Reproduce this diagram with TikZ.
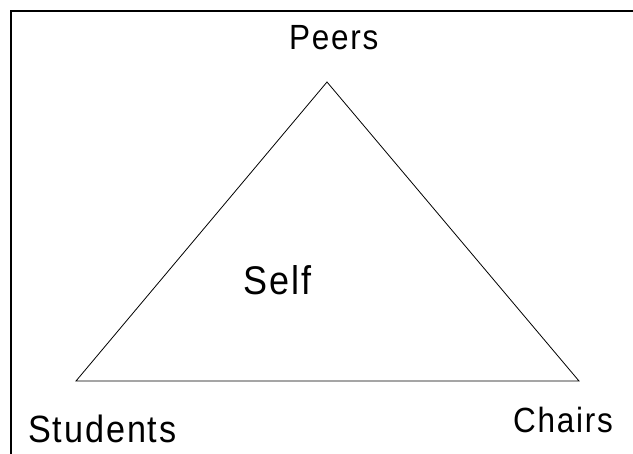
\documentclass[tikz,border=0pt]{standalone}
\usepackage{fontspec}
\setmainfont{Liberation Sans}
\newfontfamily\rolefont[FakeStretch=0.9, LetterSpace=5]{Liberation Sans}
\usetikzlibrary{positioning}

\begin{document}
\begin{tikzpicture}[x=1pt, y=-1pt,
  role/.style={inner sep=0pt, anchor=base west},
  frame/.style={line width=2pt},
  side/.style={line width=0.8pt}]
  \useasboundingbox (0,0) rectangle (633,454);
  \draw[frame] (11,454) -- (11,11) -- (633,11);
  \coordinate (top) at (327,82);
  \coordinate (left) at (76,381);
  \coordinate (right) at (579,381);
  \draw[side] (top) -- (left) -- (right) -- cycle;
  \node[role, font=\rolefont\fontsize{35}{38}\selectfont] (peers) at (289,50) {Peers};
  \node[role, font=\rolefont\fontsize{40}{44}\selectfont] (self) at (243,295) {Self};
  \node[role, font=\rolefont\fontsize{38}{42}\selectfont] (students) at (28,443) {Students};
  \node[role, font=\rolefont\fontsize{35}{38}\selectfont] (chairs) at (513,433) {Chairs};
\end{tikzpicture}
\end{document}
